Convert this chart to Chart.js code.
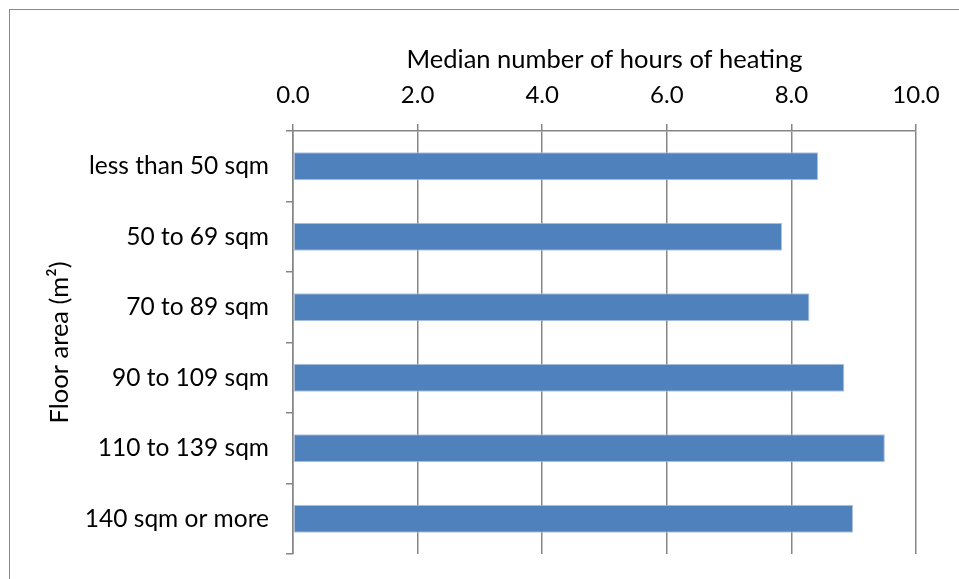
<!DOCTYPE html>
<html>
<head>
<meta charset="utf-8">
<script src="https://cdn.jsdelivr.net/npm/chart.js@4"></script>
<style>
    html, body { margin: 0; padding: 0; background: #fff; overflow: hidden; }
    #wrap { position: relative; width: 959px; height: 579px; }
    #frame { position: absolute; left: 9px; top: 9px; width: 1000px; height: 1000px;
             border-left: 1px solid #888; border-top: 1px solid #888; pointer-events: none; }
</style>
</head>
<body>
<div id="wrap">
    <canvas id="heating-chart"></canvas>
    <div id="frame"></div>
</div>
<script>
const categories = ['less than 50 sqm', '50 to 69 sqm', '70 to 89 sqm', '90 to 109 sqm', '110 to 139 sqm', '140 sqm or more'];
const medianHours = [8.43, 7.85, 8.29, 8.85, 9.5, 8.99];
const xTicks = [0, 2, 4, 6, 8, 10];

const fontFamily = 'Lato, "Open Sans", sans-serif';
const axisGray = '#868686';

const buildChart = (id) => {
    const ctx = document.getElementById(id);
    if (!ctx || typeof Chart === 'undefined') return;
    new Chart(ctx, {
        type: 'bar',
        data: {
            labels: categories,
            datasets: [{
                label: 'Median number of hours of heating',
                data: medianHours,
                backgroundColor: '#4F81BD',
                borderColor: '#B0C4DE',
                borderWidth: 1,
                borderSkipped: false,
                barPercentage: 0.4,
                categoryPercentage: 1,
            }],
        },
        options: {
            indexAxis: 'y',
            responsive: true,
            maintainAspectRatio: false,
            animation: false,
            layout: { padding: { left: 0, top: 0, right: 43, bottom: 25 } },
            plugins: { legend: { display: false }, tooltip: { enabled: false } },
            scales: {
                x: {
                    position: 'top',
                    min: 0,
                    max: 10,
                    afterBuildTicks: (scale) => { scale.ticks = xTicks.map((v) => ({ value: v })); },
                    afterFit: (scale) => { scale.height = 131; },
                    ticks: {
                        color: '#000',
                        padding: 14,
                        font: { family: fontFamily, size: 24 },
                        callback: (v) => Number(v).toFixed(1),
                        maxRotation: 0,
                    },
                    grid: { color: axisGray, lineWidth: 1.5, tickLength: 7, drawTicks: true },
                    border: { color: axisGray, width: 1.5 },
                    title: {
                        display: true,
                        text: 'Median number of hours of heating',
                        color: '#000',
                        font: { family: fontFamily, size: 25.5 },
                        padding: { top: 44, bottom: 0 },
                    },
                },
                y: {
                    afterFit: (scale) => {
                        scale.width = 293;
                        scale.paddingTop = 0;
                        scale.paddingBottom = 0;
                    },
                    ticks: {
                        color: '#000',
                        padding: 17,
                        font: { family: fontFamily, size: 24.5 },
                    },
                    grid: { drawOnChartArea: false, color: axisGray, lineWidth: 1.5, tickLength: 7, offset: true },
                    border: { color: axisGray, width: 1.5 },
                    title: {
                        display: true,
                        text: 'Floor area (m²)',
                        color: '#000',
                        font: { family: fontFamily, size: 25.5 },
                        padding: { top: 44, bottom: 0 },
                    },
                },
            },
        },
    });
};

buildChart('heating-chart');
</script>
</body>
</html>
